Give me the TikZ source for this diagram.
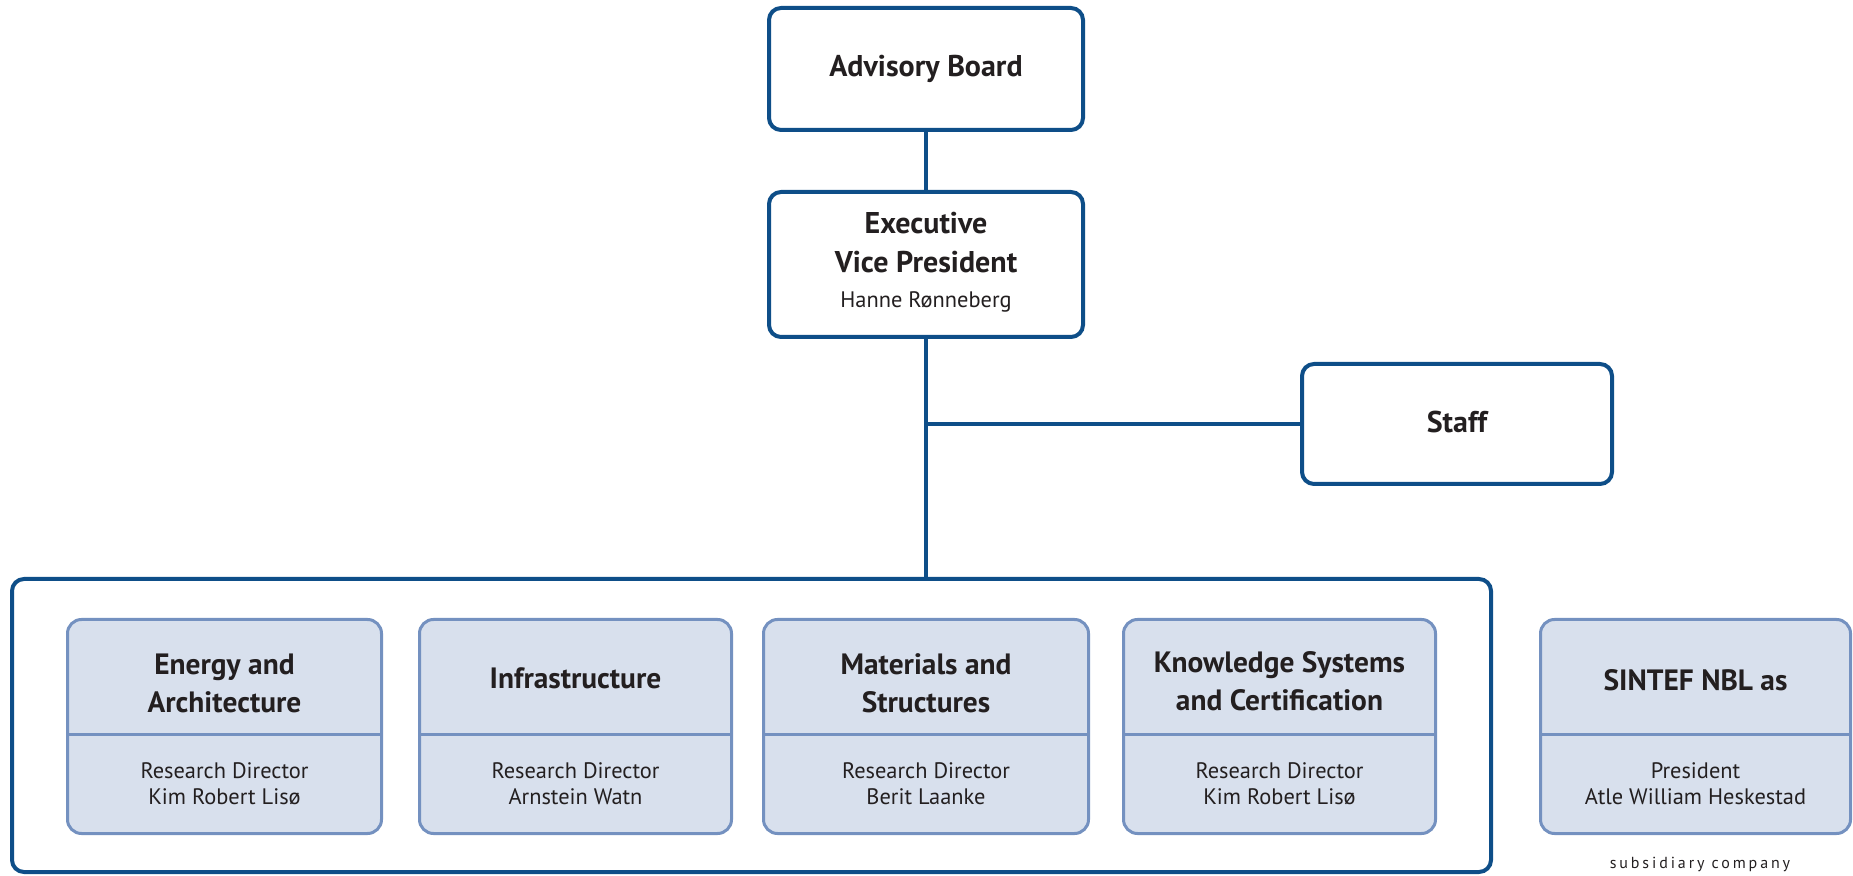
\documentclass[tikz,border=0pt]{standalone}
\usepackage{fontspec}
\setmainfont{PT Sans}
\usetikzlibrary{calc}
\definecolor{darkb}{RGB}{14,78,136}
\definecolor{lightb}{RGB}{116,145,192}
\definecolor{fillb}{RGB}{216,224,237}
\definecolor{txt}{RGB}{35,31,32}
\tikzset{
  topbox/.style={draw=darkb, line width=2pt, rounded corners=6pt, fill=white, inner sep=0pt},
  unitbox/.style={draw=lightb, line width=1.5pt, rounded corners=7pt, fill=fillb, inner sep=0pt},
  conn/.style={draw=darkb, line width=2pt},
  divider/.style={draw=lightb, line width=1.5pt},
  title/.style={text=txt, font=\fontsize{15}{19.5}\selectfont\bfseries, align=center, inner sep=0pt},
  utitle/.style={text=txt, font=\fontsize{14.7}{19}\selectfont\bfseries, align=center, inner sep=0pt},
  person/.style={text=txt, font=\fontsize{11.2}{13}\selectfont, align=center, inner sep=0pt},
}
\begin{document}
\begin{tikzpicture}[x=0.5pt,y=-0.5pt]
\useasboundingbox (0,0) rectangle (1853,876);
% top boxes
\node[topbox, minimum width=157pt, minimum height=61pt] (ab) at (926,69) {};
\node[title] (abt) at (926,69) {Advisory Board};
\node[topbox, minimum width=157pt, minimum height=72.5pt] (evp) at (926,264.5) {};
\node[title] (evpt) at (926,243) {Executive\\Vice President};
\node[person] (evpn) at (926,302) {Hanne Rønneberg};
\node[topbox, minimum width=155pt, minimum height=60pt] (staff) at (1457,424) {};
\node[title] (stafft) at (1457,422) {Staff};
\node[topbox, minimum width=739.5pt, minimum height=146.5pt] (main) at (751.5,725.5) {};
% connectors
\draw[conn] (ab.south) -- (evp.north);
\draw[conn] (evp.south) -- (evp.south |- main.north);
\coordinate (jn) at (evp.south |- staff.west);
\draw[conn] (jn) -- (staff.west);
% unit boxes
\foreach \n/\cx/\w in {u1/224.5/157, u2/575.5/156, u3/926/162.5, u4/1279.5/156, u5/1695.5/155}{
  \node[unitbox, minimum width=\w pt, minimum height=107pt] (\n) at (\cx,726.5) {};
  \draw[divider] (\n.west |- 0,734) -- (\n.east |- 0,734);
}
\node[utitle] (u1t) at (224.5,683) {Energy and\\Architecture};
\node[person] (u1n) at (224.5,784) {Research Director\\Kim Robert Lisø};
\node[utitle] (u2t) at (575.5,678) {Infrastructure};
\node[person] (u2n) at (575.5,784) {Research Director\\Arnstein Watn};
\node[utitle] (u3t) at (926,683) {Materials and\\Structures};
\node[person] (u3n) at (926,784) {Research Director\\Berit Laanke};
\node[utitle] (u4t) at (1279.5,681) {Knowledge Systems\\and Certification};
\node[person] (u4n) at (1279.5,784) {Research Director\\Kim Robert Lisø};
\node[utitle] (u5t) at (1695.5,680) {SINTEF NBL as};
\node[person] (u5n) at (1695.5,784) {President\\Atle William Heskestad};
\node[text=txt, font=\fontsize{8}{10}\selectfont\addfontfeature{LetterSpace=18}, inner sep=0pt] (sub) at (1700,864) {subsidiary company};
\end{tikzpicture}
\end{document}
